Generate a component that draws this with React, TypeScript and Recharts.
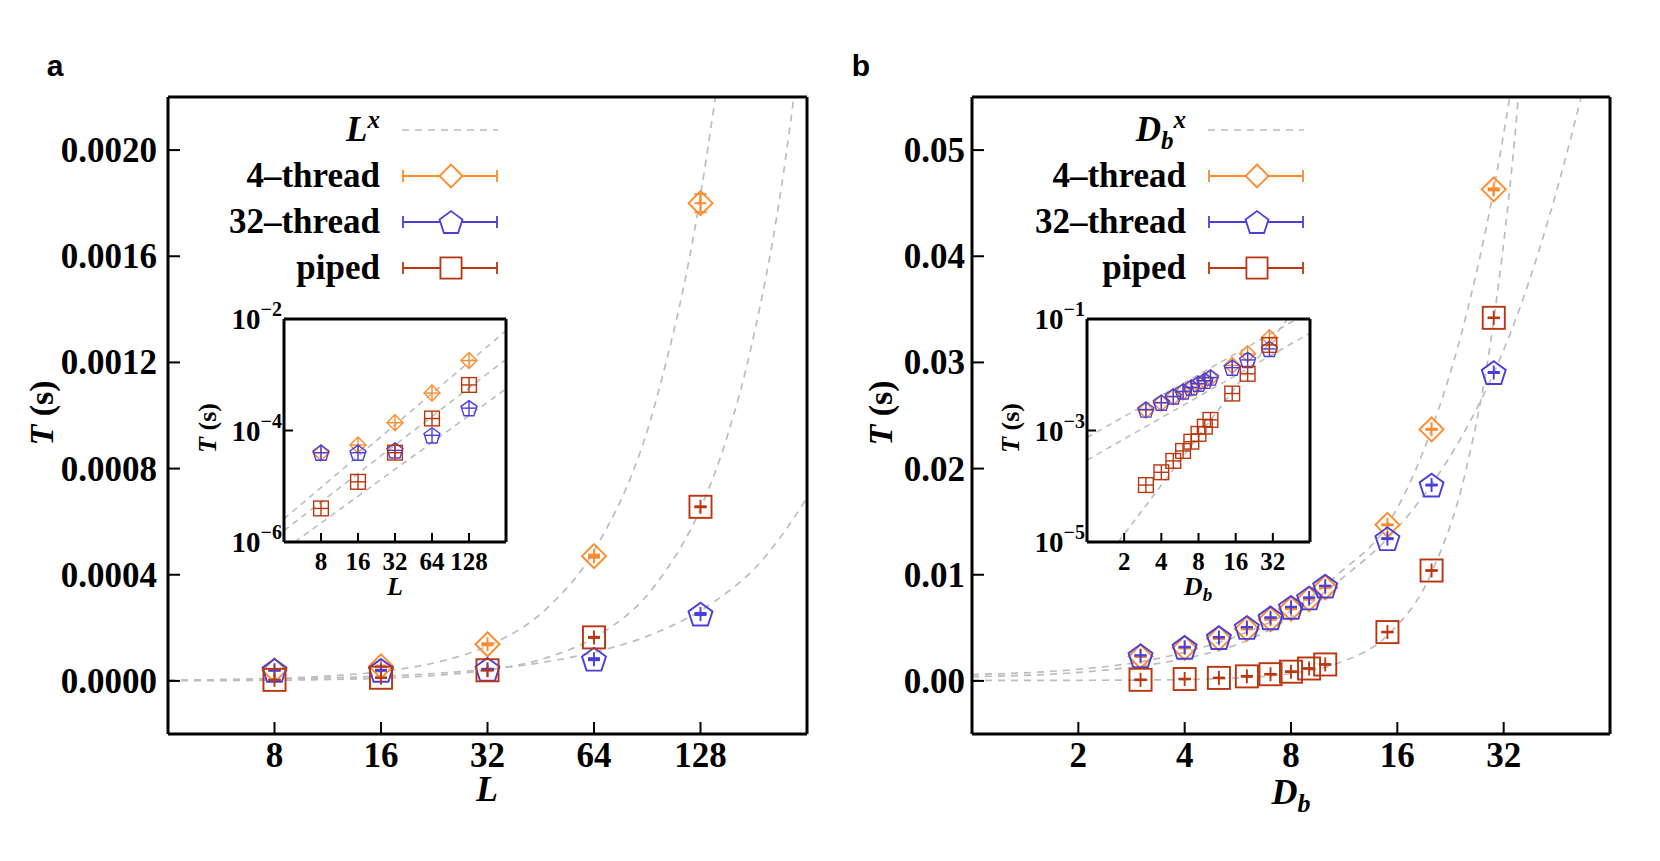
import React from "react";
import {
  ComposedChart,
  Line,
  Scatter,
  XAxis,
  YAxis,
  ErrorBar,
  Legend,
} from "recharts";

const ORANGE = "#ff8a2b";
const BLUE = "#4a3fd9";
const RED = "#b9360f";
const FIT = "#bdbdbd";
const SERIF = '"Liberation Serif", "Times New Roman", serif';
const SANS = '"Liberation Sans", Arial, sans-serif';

// ---- panel a : run time against L ----
const lSizes = [8, 16, 32, 64, 128];
const aFourThread = [4.0e-5, 5.5e-5, 1.38e-4, 4.7e-4, 1.8e-3];
const aFourThreadErr = [2e-6, 3e-6, 4e-6, 6e-6, 3.4e-5];
const aThirtyTwoThread = [4.0e-5, 4.0e-5, 4.4e-5, 8.2e-5, 2.52e-4];
const aThirtyTwoErr = [2e-6, 2e-6, 2e-6, 4e-6, 4e-6];
const aPiped = [4.0e-6, 1.2e-5, 4.0e-5, 1.64e-4, 6.56e-4];
const aPipedErr = [1e-6, 1e-6, 1e-6, 2e-6, 2e-6];

// dashed L^x curves
const aFitL = [4, 6, 8, 12, 16, 24, 32, 48, 64, 96, 128, 152, 181, 215, 256];
const aFitFour = [2.5e-6, 5.5e-6, 9.4e-6, 2.04e-5, 3.5e-5, 7.6e-5, 1.31e-4, 2.84e-4, 4.9e-4, 1.06e-3, 1.83e-3, 2.54e-3, 3.53e-3, 4.9e-3, 6.8e-3];
const aFitPiped = [6.3e-7, 1.43e-6, 2.54e-6, 5.7e-6, 1.02e-5, 2.29e-5, 4.06e-5, 9.14e-5, 1.625e-4, 3.66e-4, 6.5e-4, 9.17e-4, 1.3e-3, 1.83e-3, 2.6e-3];
const aFitThirtyTwo = [2.93e-6, 4.96e-6, 7.2e-6, 1.22e-5, 1.78e-5, 3.0e-5, 4.37e-5, 7.4e-5, 1.08e-4, 1.82e-4, 2.65e-4, 3.33e-4, 4.2e-4, 5.4e-4, 6.9e-4];

// inset a lines (straight on log-log)
const aInsetFitL = [4, 256];
const aInsetFitFour = [2.6e-6, 6.15e-3];
const aInsetFitPiped = [1.6e-6, 1.89e-3];
const aInsetFitThirtyTwoL = [4.9, 256];
const aInsetFitThirtyTwo = [1.0e-6, 5.6e-4];

const aXTicks = [8, 16, 32, 64, 128];
const aYTicks = [0, 0.0004, 0.0008, 0.0012, 0.0016, 0.002];
const aInsetYTicks = [1e-6, 1e-4, 1e-2];

// ---- panel b : run time against D_b ----
const dbSizes = [3, 4, 5, 6, 7, 8, 9, 10, 15, 20, 30];
const bFourThread = [0.0023, 0.0031, 0.004, 0.0049, 0.0058, 0.0068, 0.0077, 0.0088, 0.0147, 0.0237, 0.0463];
const bFourThreadErr = [5e-5, 5e-5, 5e-5, 5e-5, 5e-5, 5e-5, 5e-5, 5e-5, 5e-5, 5e-5, 1e-4];
const bThirtyTwoThread = [0.00238, 0.00317, 0.00409, 0.00504, 0.00595, 0.00694, 0.00782, 0.00893, 0.0134, 0.01845, 0.02905];
const bThirtyTwoErr = [5e-5, 5e-5, 5e-5, 5e-5, 5e-5, 5e-5, 5e-5, 5e-5, 5e-5, 5e-5, 5e-5];
const bPiped = [1.05e-4, 1.78e-4, 2.85e-4, 4.3e-4, 6.3e-4, 8.7e-4, 1.17e-3, 1.55e-3, 4.6e-3, 1.04e-2, 3.42e-2];
const bPipedErr = [3e-5, 3e-5, 3e-5, 3e-5, 3e-5, 3e-5, 3e-5, 3e-5, 3e-5, 3e-5, 3e-5];

const bFitD = [1, 2, 3, 4, 6, 8, 11, 15, 20, 25, 30, 35, 40, 53, 64];
const bFitFour = [0.0006, 0.0011, 0.0018, 0.0027, 0.0046, 0.0066, 0.0102, 0.0147, 0.0237, 0.0343, 0.0463, 0.0597, 0.074, 0.12, 0.165];
const bFitThirtyTwo = [0.0004, 0.0008, 0.0014, 0.0021, 0.0038, 0.006, 0.0095, 0.0134, 0.0185, 0.0237, 0.029, 0.0345, 0.0402, 0.055, 0.067];
const bFitPiped = [0.00005, 0.00006, 0.00008, 0.00013, 0.00032, 0.0007, 0.00173, 0.0043, 0.0102, 0.0198, 0.034, 0.054, 0.081, 0.188, 0.33];

const bInsetFitD = [1, 64];
const bInsetFitFour = [7.5e-4, 0.135];
const bInsetFitThirtyTwo = [2.95e-4, 0.0558];
const bInsetFitPipedD = [1.79, 42];
const bInsetFitPiped = [1.0e-5, 0.1];

const bXTicks = [2, 4, 8, 16, 32];
const bYTicks = [0, 0.01, 0.02, 0.03, 0.04, 0.05];
const bInsetYTicks = [1e-5, 1e-3, 1e-1];

const toPoints = (xs: number[], ys: number[], errs?: number[]) =>
  xs.map((x, i) => ({ x, y: ys[i], err: errs ? errs[i] : 0 }));

type Kind = "diamond" | "pentagon" | "square";

function Glyph(props: any) {
  const { cx, cy, kind, color, size, plusV, plusH, sw, fill = "none" } = props;
  if (cx == null || cy == null || Number.isNaN(cx) || Number.isNaN(cy)) return null;
  let outline;
  if (kind === "diamond") {
    outline = (
      <polygon
        points={`${cx},${cy - size} ${cx + size},${cy} ${cx},${cy + size} ${cx - size},${cy}`}
        fill={fill}
        stroke={color}
        strokeWidth={sw}
      />
    );
  } else if (kind === "square") {
    const h = size * 0.92;
    outline = <rect x={cx - h} y={cy - h} width={2 * h} height={2 * h} fill={fill} stroke={color} strokeWidth={sw} />;
  } else {
    const R = size * 1.05;
    const c = cy + R * 0.1;
    const pts = [0, 1, 2, 3, 4]
      .map((k) => {
        const a = ((-90 + 72 * k) * Math.PI) / 180;
        return `${cx + R * Math.cos(a)},${c + R * Math.sin(a)}`;
      })
      .join(" ");
    outline = <polygon points={pts} fill={fill} stroke={color} strokeWidth={sw} strokeLinejoin="miter" />;
  }
  return (
    <g>
      {outline}
      {plusV ? (
        <g stroke={color} strokeWidth={sw}>
          <line x1={cx} x2={cx} y1={cy - plusV} y2={cy + plusV} />
          <line x1={cx - plusH} x2={cx + plusH} y1={cy} y2={cy} />
        </g>
      ) : null}
    </g>
  );
}

function LegendBox({ fitLabel }: { fitLabel: React.ReactNode }) {
  const rows: { label: React.ReactNode; kind?: Kind; color?: string }[] = [
    { label: fitLabel },
    { label: "4\u2013thread", kind: "diamond", color: ORANGE },
    { label: "32\u2013thread", kind: "pentagon", color: BLUE },
    { label: "piped", kind: "square", color: RED },
  ];
  return (
    <div style={{ fontFamily: SERIF, fontWeight: "bold", fontSize: 35, color: "#000" }}>
      {rows.map((r, i) => (
        <div key={i} style={{ display: "flex", alignItems: "center", height: 46 }}>
          <div style={{ width: 200, textAlign: "right", lineHeight: "46px", whiteSpace: "nowrap" }}>{r.label}</div>
          <svg width={100} height={46} style={{ marginLeft: 22, overflow: "visible" }}>
            {r.kind ? (
              <g>
                <g stroke={r.color} strokeWidth={1.8}>
                  <line x1={1} x2={95} y1={23} y2={23} />
                  <line x1={1} x2={1} y1={17} y2={29} />
                  <line x1={95} x2={95} y1={17} y2={29} />
                </g>
                <Glyph cx={49} cy={23} kind={r.kind} color={r.color} size={11.5} sw={1.8} fill="#fff" />
              </g>
            ) : (
              <line x1={0} x2={96} y1={23} y2={23} stroke={FIT} strokeWidth={1.7} strokeDasharray="7 6" />
            )}
          </svg>
        </div>
      ))}
    </div>
  );
}

function Title({ x, y, fs, rotate, italic, children }: any) {
  return (
    <div
      style={{
        position: "absolute",
        left: x,
        top: y,
        transform: `translate(-50%, -50%)${rotate ? " rotate(-90deg)" : ""}`,
        fontFamily: SERIF,
        fontWeight: "bold",
        fontStyle: italic ? "italic" : "normal",
        fontSize: fs,
        lineHeight: 1,
        whiteSpace: "nowrap",
        color: "#000",
      }}
    >
      {children}
    </div>
  );
}

const frame = { stroke: "#000", strokeWidth: 3 };
const tickStroke = { stroke: "#000", strokeWidth: 2 };

function MainPanel(props: any) {
  const { left, width, xDomain, xTicks, yDomain, yTicks, yFmt, yTickMargin, series, fits, fitLabel, legendLeft } = props;
  const xTick = (p: any) => (
    <text x={p.x} y={p.y} dy={25} textAnchor="middle" fontFamily={SERIF} fontWeight="bold" fontSize={35} fill="#000">
      {p.payload.value}
    </text>
  );
  const yTick = (p: any) => (
    <text x={p.x} y={p.y} dy={12} textAnchor="end" fontFamily={SERIF} fontWeight="bold" fontSize={35} fill="#000">
      {yFmt(p.payload.value)}
    </text>
  );
  return (
    <div style={{ position: "absolute", left, top: 87 }}>
      <ComposedChart width={width} height={747} margin={{ top: 10, right: 10, bottom: 0, left: 0 }}>
        <XAxis
          xAxisId="x"
          dataKey="x"
          type="number"
          scale="log"
          domain={xDomain}
          allowDataOverflow
          ticks={xTicks}
          interval={0}
          height={100}
          tickSize={-12}
          tickMargin={20}
          axisLine={frame}
          tickLine={tickStroke}
          tick={xTick}
        />
        <XAxis
          xAxisId="top"
          orientation="top"
          mirror
          dataKey="x"
          type="number"
          scale="log"
          domain={xDomain}
          allowDataOverflow
          ticks={xTicks}
          interval={0}
          tickSize={12}
          axisLine={frame}
          tickLine={tickStroke}
          tick={false}
        />
        <YAxis
          yAxisId="y"
          dataKey="y"
          type="number"
          domain={yDomain}
          allowDataOverflow
          ticks={yTicks}
          interval={0}
          width={160}
          tickSize={-12}
          tickMargin={yTickMargin}
          axisLine={frame}
          tickLine={tickStroke}
          tick={yTick}
        />
        <YAxis
          yAxisId="right"
          orientation="right"
          mirror
          dataKey="y"
          type="number"
          domain={yDomain}
          allowDataOverflow
          ticks={yTicks}
          interval={0}
          tickSize={12}
          axisLine={frame}
          tickLine={tickStroke}
          tick={false}
        />
        {fits.map((f: any, i: number) => (
          <Line
            key={`fit-${i}`}
            xAxisId="x"
            yAxisId="y"
            data={f}
            dataKey="y"
            type="monotone"
            stroke={FIT}
            strokeWidth={1.7}
            strokeDasharray="7 6"
            dot={false}
            activeDot={false}
            legendType="none"
            isAnimationActive={false}
          />
        ))}
        {series.map((s: any) => (
          <Scatter
            key={s.key}
            xAxisId="x"
            yAxisId="y"
            data={s.data}
            dataKey="y"
            isAnimationActive={false}
            shape={(p: any) => (
              <Glyph cx={p.cx} cy={p.cy} kind={s.kind} color={s.color} size={s.size} plusV={7} plusH={6} sw={1.9} />
            )}
          >
            <ErrorBar dataKey="err" direction="y" width={6} stroke={s.color} strokeWidth={1.9} />
          </Scatter>
        ))}
        <Legend
          layout="vertical"
          align="center"
          verticalAlign="middle"
          wrapperStyle={{ left: legendLeft, top: 20, width: 330, height: 184 }}
          content={() => <LegendBox fitLabel={fitLabel} />}
        />
      </ComposedChart>
    </div>
  );
}

function InsetPanel(props: any) {
  const { left, width, xDomain, xTicks, yDomain, yTicks, series, fits } = props;
  const xTick = (p: any) => (
    <text x={p.x} y={p.y} dy={18} textAnchor="middle" fontFamily={SERIF} fontWeight="bold" fontSize={25} fill="#000">
      {p.payload.value}
    </text>
  );
  const yTick = (p: any) => {
    const e = Math.round(Math.log10(p.payload.value));
    return (
      <text x={p.x} y={p.y} dy={10} textAnchor="end" fontFamily={SERIF} fontWeight="bold" fontSize={29} fill="#000">
        <tspan>10</tspan>
        <tspan dy={-13} fontSize={20}>{`\u2212${Math.abs(e)}`}</tspan>
      </text>
    );
  };
  return (
    <div style={{ position: "absolute", left, top: 289 }}>
      <ComposedChart width={width} height={313} margin={{ top: 30, right: 10, bottom: 0, left: 0 }}>
        <XAxis
          xAxisId="x"
          dataKey="x"
          type="number"
          scale="log"
          domain={xDomain}
          allowDataOverflow
          ticks={xTicks}
          interval={0}
          height={60}
          tickSize={-9}
          tickMargin={19}
          axisLine={frame}
          tickLine={tickStroke}
          tick={xTick}
        />
        <XAxis
          xAxisId="top"
          orientation="top"
          mirror
          dataKey="x"
          type="number"
          scale="log"
          domain={xDomain}
          allowDataOverflow
          ticks={xTicks}
          interval={0}
          tickSize={9}
          axisLine={frame}
          tickLine={tickStroke}
          tick={false}
        />
        <YAxis
          yAxisId="y"
          dataKey="y"
          type="number"
          scale="log"
          domain={yDomain}
          allowDataOverflow
          ticks={yTicks}
          interval={0}
          width={90}
          tickSize={-9}
          tickMargin={11}
          axisLine={frame}
          tickLine={tickStroke}
          tick={yTick}
        />
        <YAxis
          yAxisId="right"
          orientation="right"
          mirror
          dataKey="y"
          type="number"
          scale="log"
          domain={yDomain}
          allowDataOverflow
          ticks={yTicks}
          interval={0}
          tickSize={9}
          axisLine={frame}
          tickLine={tickStroke}
          tick={false}
        />
        {fits.map((f: any, i: number) => (
          <Line
            key={`ifit-${i}`}
            xAxisId="x"
            yAxisId="y"
            data={f}
            dataKey="y"
            type="linear"
            stroke={FIT}
            strokeWidth={1.6}
            strokeDasharray="6 5"
            dot={false}
            activeDot={false}
            legendType="none"
            isAnimationActive={false}
          />
        ))}
        {series.map((s: any) => (
          <Scatter
            key={s.key}
            xAxisId="x"
            yAxisId="y"
            data={s.data}
            dataKey="y"
            isAnimationActive={false}
            shape={(p: any) => (
              <Glyph
                cx={p.cx}
                cy={p.cy}
                kind={s.kind}
                color={s.color}
                size={s.insetSize}
                plusV={s.insetSize * 0.9}
                plusH={s.insetSize * 0.9}
                sw={1.4}
              />
            )}
          />
        ))}
      </ComposedChart>
    </div>
  );
}

export default function App() {
  const aSeries = [
    { key: "four", color: ORANGE, kind: "diamond", size: 12, insetSize: 8, data: toPoints(lSizes, aFourThread, aFourThreadErr) },
    { key: "thirtytwo", color: BLUE, kind: "pentagon", size: 12, insetSize: 8, data: toPoints(lSizes, aThirtyTwoThread, aThirtyTwoErr) },
    { key: "piped", color: RED, kind: "square", size: 12, insetSize: 8, data: toPoints(lSizes, aPiped, aPipedErr) },
  ];
  const bSeries = [
    { key: "four", color: ORANGE, kind: "diamond", size: 12, insetSize: 8, data: toPoints(dbSizes, bFourThread, bFourThreadErr) },
    { key: "thirtytwo", color: BLUE, kind: "pentagon", size: 12, insetSize: 8, data: toPoints(dbSizes, bThirtyTwoThread, bThirtyTwoErr) },
    { key: "piped", color: RED, kind: "square", size: 12, insetSize: 8, data: toPoints(dbSizes, bPiped, bPipedErr) },
  ];
  const aFits = [toPoints(aFitL, aFitFour), toPoints(aFitL, aFitPiped), toPoints(aFitL, aFitThirtyTwo)];
  const bFits = [toPoints(bFitD, bFitFour), toPoints(bFitD, bFitThirtyTwo), toPoints(bFitD, bFitPiped)];
  const aInsetFits = [
    toPoints(aInsetFitL, aInsetFitFour),
    toPoints(aInsetFitL, aInsetFitPiped),
    toPoints(aInsetFitThirtyTwoL, aInsetFitThirtyTwo),
  ];
  const bInsetFits = [
    toPoints(bInsetFitD, bInsetFitFour),
    toPoints(bInsetFitD, bInsetFitThirtyTwo),
    toPoints(bInsetFitPipedD, bInsetFitPiped),
  ];

  return (
    <div style={{ position: "absolute", left: 0, top: 0, width: 1660, height: 861, background: "#fff", overflow: "hidden" }}>
      <div style={{ position: "absolute", left: 55, top: 66, transform: "translate(-50%, -50%)", fontFamily: SANS, fontWeight: "bold", fontSize: 30, lineHeight: 1 }}>
        a
      </div>
      <div style={{ position: "absolute", left: 861, top: 66, transform: "translate(-50%, -50%)", fontFamily: SANS, fontWeight: "bold", fontSize: 30, lineHeight: 1 }}>
        b
      </div>

      <MainPanel
        left={8}
        width={809}
        xDomain={[4, 256]}
        xTicks={aXTicks}
        yDomain={[-0.0002, 0.0022]}
        yTicks={aYTicks}
        yFmt={(v: number) => v.toFixed(4)}
        yTickMargin={23}
        series={aSeries}
        fits={aFits}
        legendLeft={172}
        fitLabel={
          <i>
            L<sup style={{ fontSize: 25, lineHeight: 0 }}>x</sup>
          </i>
        }
      />
      <MainPanel
        left={812}
        width={808}
        xDomain={[1, 64]}
        xTicks={bXTicks}
        yDomain={[-0.005, 0.055]}
        yTicks={bYTicks}
        yFmt={(v: number) => v.toFixed(2)}
        yTickMargin={19}
        series={bSeries}
        fits={bFits}
        legendLeft={174}
        fitLabel={
          <i>
            D<sub style={{ fontSize: 25, lineHeight: 0 }}>b</sub>
            <sup style={{ fontSize: 25, lineHeight: 0 }}>x</sup>
          </i>
        }
      />

      <InsetPanel
        left={194}
        width={322}
        xDomain={[4, 256]}
        xTicks={aXTicks}
        yDomain={[1e-6, 1e-2]}
        yTicks={aInsetYTicks}
        series={aSeries}
        fits={aInsetFits}
      />
      <InsetPanel
        left={997}
        width={323}
        xDomain={[1, 64]}
        xTicks={bXTicks}
        yDomain={[1e-5, 1e-1]}
        yTicks={bInsetYTicks}
        series={bSeries}
        fits={bInsetFits}
      />

      <Title x={42} y={413} fs={34} rotate>
        <i>T</i> (s)
      </Title>
      <Title x={487} y={789} fs={36} italic>
        L
      </Title>
      <Title x={881} y={413} fs={34} rotate>
        <i>T</i> (s)
      </Title>
      <Title x={1291} y={792} fs={36} italic>
        D<sub style={{ fontSize: 26, lineHeight: 0 }}>b</sub>
      </Title>

      <Title x={208} y={428} fs={26} rotate>
        <i>T</i> (s)
      </Title>
      <Title x={395} y={587} fs={26} italic>
        L
      </Title>
      <Title x={1011} y={428} fs={26} rotate>
        <i>T</i> (s)
      </Title>
      <Title x={1198} y={587} fs={26} italic>
        D<sub style={{ fontSize: 19, lineHeight: 0 }}>b</sub>
      </Title>
    </div>
  );
}
